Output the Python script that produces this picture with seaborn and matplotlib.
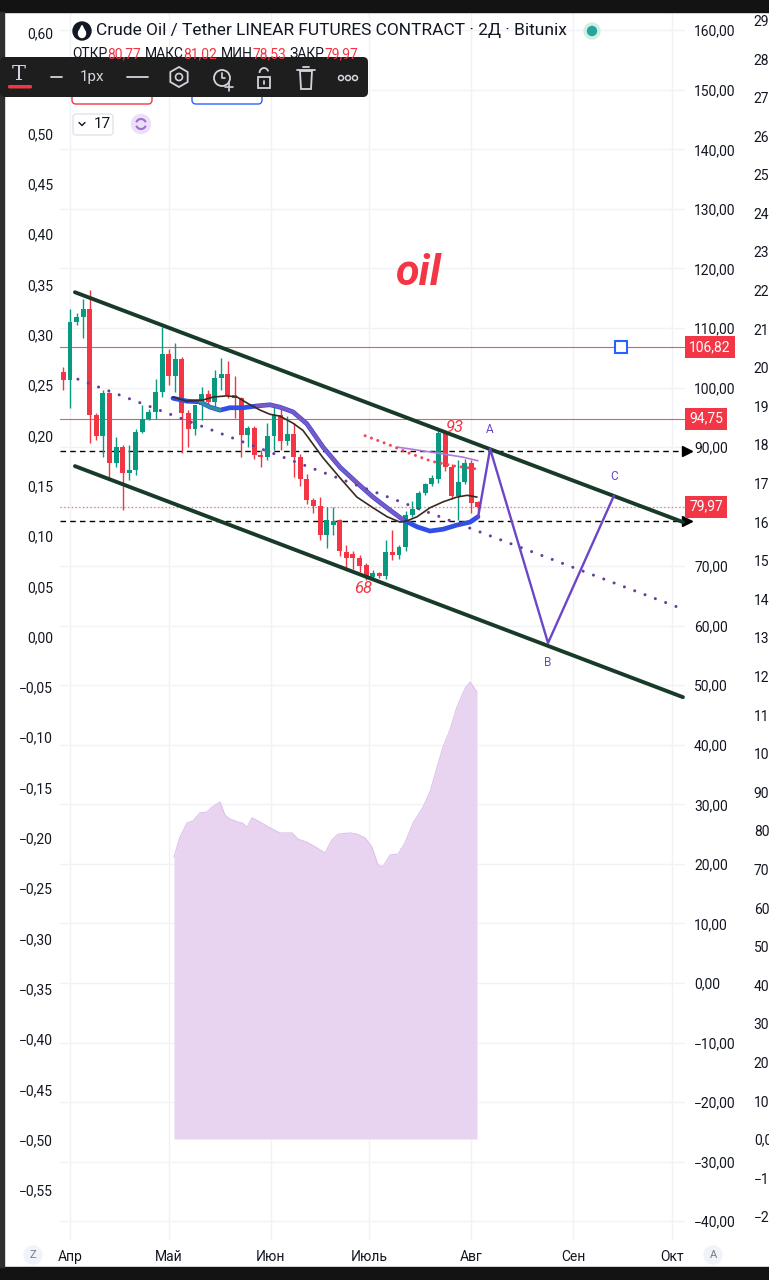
import numpy as np
import matplotlib
matplotlib.use("Agg")
import matplotlib.pyplot as plt
import seaborn as sns
from matplotlib.patches import Rectangle, FancyBboxPatch, Circle, RegularPolygon, Arc, Ellipse, Polygon

sns.set_theme(style="white")
plt.rcParams['font.family'] = ['Roboto', 'DejaVu Sans']

# 2-day candles, x = days from 1 April
bar_days = list(range(-2, 126, 2))
opens = [102.6, 101.3, 111.0, 111.8, 113.2, 95.4, 91.9, 99.1, 87.3, 90.0, 85.6, 86.1, 92.5, 94.7, 95.9, 99.2,
         105.6, 101.9, 104.8, 95.7, 93.0, 97.1, 98.9, 97.6, 101.6, 102.3, 98.7, 98.2, 92.0, 93.2, 88.7, 88.3,
         91.9, 95.4, 91.0, 92.2, 88.3, 84.6, 81.1, 80.1, 75.2, 76.9, 77.8, 72.4, 72.0, 71.4, 70.2, 68.2,
         68.8, 68.3, 72.4, 71.9, 73.2, 78.6, 79.6, 82.3, 83.8, 84.6, 92.4, 86.7, 81.8, 84.1, 87.3, 80.77]
highs = [103.4, 113.2, 112.5, 114.9, 116.4, 95.7, 99.6, 99.2, 91.7, 90.3, 90.3, 93.0, 97.0, 96.4, 101.5, 110.2,
         106.5, 107.5, 105.2, 96.2, 97.1, 100.1, 99.6, 103.0, 105.0, 104.5, 102.0, 98.4, 93.5, 93.6, 89.5, 94.0,
         96.7, 96.7, 95.2, 94.0, 88.8, 85.5, 81.5, 81.6, 80.0, 79.9, 78.0, 73.5, 72.5, 71.8, 70.5, 69.3,
         69.1, 74.4, 76.1, 73.6, 79.3, 81.0, 82.6, 84.0, 85.3, 92.9, 92.9, 87.2, 87.8, 88.0, 87.8, 81.02]
lows = [99.6, 96.6, 110.5, 108.3, 90.7, 91.2, 88.3, 84.5, 86.7, 79.4, 84.5, 85.3, 92.4, 94.5, 94.7, 98.4,
        100.5, 99.2, 89.0, 90.0, 92.0, 94.5, 96.9, 96.5, 99.6, 98.2, 94.9, 88.3, 90.0, 88.0, 86.7, 87.9,
        89.5, 89.5, 90.4, 85.0, 83.5, 80.5, 79.0, 74.4, 73.0, 75.2, 71.7, 69.5, 69.5, 69.0, 67.7, 68.0,
        68.0, 67.9, 71.0, 71.2, 72.5, 78.2, 79.5, 82.0, 83.5, 84.0, 86.0, 81.2, 77.8, 83.8, 78.9, 78.53]
closes = [101.3, 111.0, 111.8, 113.2, 95.4, 91.9, 99.1, 87.3, 90.0, 85.6, 86.1, 92.5, 94.7, 95.9, 99.2, 105.6,
          101.9, 104.8, 95.7, 93.0, 97.1, 98.9, 97.6, 101.6, 102.3, 98.7, 98.2, 92.0, 93.2, 88.7, 88.3, 91.9,
          95.4, 91.0, 92.2, 88.3, 84.6, 81.1, 80.1, 75.2, 77.8, 77.6, 72.5, 71.4, 71.4, 70.0, 68.2, 68.8,
          68.3, 72.4, 71.9, 73.2, 78.6, 79.6, 82.3, 83.8, 84.8, 92.4, 86.7, 81.8, 84.1, 87.3, 80.6, 79.97]

# moving averages
blue_days = [31.3, 35.6, 39.5, 42.6, 45.6, 48.6, 52.6, 56.8, 60.8, 63.8, 67.8, 72.0, 76.9, 82.1, 87.2, 92.1,
             97.3, 101.2, 105.5, 109.4, 113.4, 117.6, 121.6, 124.0]
blue_vals = [98.2, 97.7, 97.6, 96.7, 96.2, 96.6, 96.6, 96.9, 97.1, 96.7, 95.9, 93.9, 90.0, 86.6, 84.0, 81.6,
             79.4, 77.8, 76.6, 75.9, 76.2, 76.9, 77.4, 78.3]
brown_days = [31.3, 35.6, 40.4, 43.5, 47.7, 50.8, 53.8, 57.8, 60.8, 63.8, 67.8, 70.8, 76.9, 82.1, 87.2, 92.1,
              96.4, 100.3, 102.4, 105.5, 109.4, 113.4, 117.6, 120.7, 123.7]
brown_vals = [98.4, 97.7, 97.9, 98.4, 98.6, 98.4, 97.4, 96.2, 95.5, 95.2, 94.0, 92.8, 88.2, 84.8, 81.6, 79.8,
              78.3, 77.4, 77.6, 78.3, 79.8, 80.8, 81.6, 81.9, 81.6]
violet_days = [99.4, 111.6, 119.5, 124.0]
violet_vals = [90.0, 89.0, 88.3, 87.7]
reddot_days = [89.7, 96.0, 103.0, 110.0, 117.0, 124.0]
reddot_vals = [91.9, 90.6, 89.0, 87.6, 86.8, 86.3]

# drawings
chan_days = [1.5, 186.3]
chan_upper = [116.0, 77.4]
chan_lower = [86.8, 48.0]
mid_days = [2.4, 184.8]
mid_vals = [101.4, 63.1]
abc_days = [124.0, 127.7, 145.3, 165.3]
abc_vals = [78.1, 89.7, 57.1, 81.8]
abc_names = ['', 'A', 'B', 'C']
levels_red = [106.82, 94.75]
levels_dash = [89.3, 77.6]

# lower purple area (third scale)
vol_days = [31.6, 33.4, 35.6, 37.4, 39.5, 41.6, 43.2, 45.6, 47.1, 48.6, 51.1, 52.3, 53.8, 55.3, 57.8, 60.8,
            63.8, 66.0, 67.5, 69.3, 72.0, 75.1, 77.5, 79.6, 81.5, 85.1, 87.2, 89.7, 91.8, 93.6, 95.1, 97.3,
            99.7, 101.8, 104.3, 107.3, 109.4, 111.6, 113.4, 115.5, 117.6, 120.1, 121.6, 123.7]
vol_vals = [730, 782, 819, 824, 845, 847, 860, 873, 839, 829, 821, 819, 808, 832, 821, 806,
            793, 793, 793, 777, 769, 754, 741, 775, 790, 793, 790, 780, 756, 710, 705, 736,
            738, 767, 819, 860, 899, 964, 1016, 1060, 1119, 1168, 1184, 1158]

month_days = [0, 30, 61, 91, 122, 153, 183]
month_names = ['Апр', 'Май', 'Июн', 'Июль', 'Авг', 'Сен', 'Окт']
price_ticks = list(range(-40, 161, 10))
left_ticks = [round(-0.55 + 0.05 * i, 2) for i in range(24)]
vol_ticks = list(range(-200, 3000, 100))

UP, DOWN = '#089981', '#f23645'
TXT = '#131722'


def fmt(v, nd=2):
    return f"{v:.{nd}f}".replace('.', ',').replace('-', '\u2212')


W, H = 769, 1280
L, R, T, B = 60, 685, 12, 1240
fig = plt.figure(figsize=(W / 100, H / 100), dpi=100)
fig.patch.set_facecolor('white')

ax = fig.add_axes([L / W, 1 - B / H, (R - L) / W, (B - T) / H])
ax.set_xlim(-3.04, 186.93)
ax.set_ylim(-43.16, 163.06)
ax.set_xticks(month_days)
ax.set_xticklabels(month_names)
ax.tick_params(axis='x', length=0, pad=7, labelsize=10, labelcolor=TXT)
ax.grid(True, color='#f0f2f6', lw=1)
ax.set_axisbelow(True)
for s in ax.spines.values():
    s.set_visible(False)

# candles
o, h, l, c = map(np.array, (opens, highs, lows, closes))
d = np.array(bar_days)
cols = np.where(c >= o, UP, DOWN)
ax.vlines(d, l, h, colors=cols, lw=1, zorder=3)
ax.bar(d, np.maximum(np.abs(c - o), 0.35), bottom=np.minimum(o, c), width=1.5,
       color=cols, linewidth=0, zorder=3)

# horizontal levels
for v in levels_red:
    ax.axhline(v, color='#f23645', lw=0.8, alpha=0.85, zorder=2)
    ax.annotate(fmt(v), xy=(1, v), xycoords=('axes fraction', 'data'), xytext=(3, 0),
                textcoords='offset points', va='center', ha='left', color='white', fontsize=10,
                bbox=dict(boxstyle='square,pad=0.3', fc='#f23645', ec='none'),
                annotation_clip=False, zorder=10)
for v in levels_dash:
    ax.axhline(v, color='black', lw=1, ls=(0, (4, 3)), zorder=2)
    ax.plot([187.4], [v], marker='>', color='black', ms=7, clip_on=False, zorder=6)
ax.axhline(closes[-1], color='#f23645', lw=0.9, alpha=0.7, ls=(0, (1, 2)), zorder=2)
ax.annotate(fmt(closes[-1]), xy=(1, closes[-1]), xycoords=('axes fraction', 'data'), xytext=(3, 0),
            textcoords='offset points', va='center', ha='left', color='white', fontsize=10,
            bbox=dict(boxstyle='square,pad=0.3', fc='#f23645', ec='none'),
            annotation_clip=False, zorder=10)
ax.plot([167.5], [levels_red[0]], marker='s', ms=9, mfc='white', mec='#2962ff', mew=1.5, zorder=8)

# indicator lines
sns.lineplot(x=blue_days, y=blue_vals, ax=ax, color='#2f4fe6', linewidth=3.4, estimator=None,
             sort=False, zorder=4)
sns.lineplot(x=blue_days[2:5], y=blue_vals[2:5], ax=ax, color='#2e8fa0', linewidth=2.4, estimator=None,
             sort=False, zorder=4)
sns.lineplot(x=blue_days[7:18], y=blue_vals[7:18], ax=ax, color='#7e57c2', linewidth=2.4, estimator=None,
             sort=False, zorder=4)
sns.lineplot(x=brown_days, y=brown_vals, ax=ax, color='#3b2a20', linewidth=1.2, estimator=None,
             sort=False, zorder=5)
sns.lineplot(x=violet_days, y=violet_vals, ax=ax, color='#b07ad8', linewidth=1.2, estimator=None,
             sort=False, zorder=4)
ax.plot(reddot_days, reddot_vals, color='#f0475a', lw=2.2, ls=(0, (0.01, 2.2)),
        dash_capstyle='round', zorder=4)
ax.plot(mid_days, mid_vals, color='#6a3d9a', lw=2.2, ls=(0, (0.01, 3.6)),
        dash_capstyle='round', zorder=4)

# channel and wave
sns.lineplot(x=chan_days, y=chan_upper, ax=ax, color='#183a29', linewidth=2.8, estimator=None, zorder=6)
sns.lineplot(x=chan_days, y=chan_lower, ax=ax, color='#183a29', linewidth=2.8, estimator=None, zorder=6)
sns.lineplot(x=abc_days, y=abc_vals, ax=ax, color='#6c45c9', linewidth=1.7, estimator=None,
             sort=False, zorder=7)
for x, y, n in zip(abc_days, abc_vals, abc_names):
    if n:
        dy = -14 if n == 'B' else 14
        ax.annotate(n, xy=(x, y), xytext=(0, dy), textcoords='offset points', ha='center',
                    va='center', color='#6c45c9', fontsize=8.5)

ax.text(105.8, 117.2, 'oil', color='#f23645', fontsize=31, fontweight='bold', fontstyle='italic',
        ha='center', va='baseline', zorder=8)
ax.text(117, 92.5, '93', color='#f23645', fontsize=12, fontstyle='italic', ha='center', va='baseline', zorder=8)
ax.text(89.1, 65.5, '68', color='#f23645', fontsize=12, fontstyle='italic', ha='center', va='baseline', zorder=8)

# left scale
ax_l = ax.twinx()
ax_l.set_ylim(-0.5997, 0.6209)
ax_l.set_yticks(left_ticks)
ax_l.set_yticklabels([fmt(v) for v in left_ticks])
ax_l.yaxis.tick_left()
ax_l.tick_params(axis='y', length=0, pad=5, labelsize=10, labelcolor=TXT)
ax_l.grid(False)
for s in ax_l.spines.values():
    s.set_visible(False)

# third scale with purple area
ax3 = ax.twinx()
ax3.set_ylim(-261.7, 2920)
ax3.fill_between(vol_days, 0, vol_vals, color='#e8d4f0', lw=0, zorder=1)
ax3.plot(vol_days, vol_vals, color='#dcc2ea', lw=0.8)
ax3.set_yticks(vol_ticks)
ax3.set_yticklabels([fmt(v) for v in vol_ticks])
ax3.tick_params(axis='y', length=0, pad=49.5, labelsize=10, labelcolor=TXT)
ax3.grid(False)
for s in ax3.spines.values():
    s.set_visible(False)

# price scale on the right (set after twinx, which moves it to the left);
# the 80,00 label sits under the last-price box, so it is left blank
ax.set_yticks(price_ticks)
ax.set_yticklabels(['' if v == 80 else fmt(v) for v in price_ticks])
ax.yaxis.tick_right()
ax.tick_params(axis='y', length=0, pad=6.5, labelsize=10, labelcolor=TXT,
               left=False, labelleft=False, right=False, labelright=True)

# overlay: frame, header, toolbar
ov = fig.add_axes([0, 0, 1, 1], zorder=20)
ov.set_xlim(0, W)
ov.set_ylim(H, 0)
ov.axis('off')
ov.patch.set_alpha(0)
ov.add_patch(Rectangle((0, 0), W, 12, color='#131313'))
ov.add_patch(Rectangle((0, 1267), W, 13, color='#131313'))
ov.add_patch(Rectangle((0, 12), 4, 1255, color='#2f2f2f'))

ov.add_patch(Circle((82, 31), 9, color=TXT))
ov.add_patch(Ellipse((82, 33.5), 7, 8, color='white'))
ov.add_patch(Polygon([(82, 25.5), (78.9, 32), (85.1, 32)], color='white'))
ov.text(96, 31, 'Crude Oil / Tether LINEAR FUTURES CONTRACT · 2Д · Bitunix', fontsize=12.5,
        va='center', ha='left', color=TXT)
ov.add_patch(Circle((592, 31), 8, color='#d2efe5'))
ov.add_patch(Circle((592, 31), 4.5, color='#26a69a'))

parts = [('ОТКР', TXT), (fmt(opens[-1]), DOWN), ('МАКС', TXT), (fmt(highs[-1]), DOWN),
         ('МИН', TXT), (fmt(lows[-1]), DOWN), ('ЗАКР', TXT), (fmt(closes[-1]), DOWN)]
t = ov.text(72, 54, parts[0][0], fontsize=10, color=parts[0][1], va='center', ha='left')
for i, (s, col) in enumerate(parts[1:], start=1):
    gap = 0 if i % 2 == 1 else 2.5
    t = ov.annotate(s, xy=(1, 0), xycoords=t, xytext=(gap, 0), textcoords='offset points',
                    va='bottom', ha='left', fontsize=10, color=col)

ov.add_patch(FancyBboxPatch((72, 84), 80, 20, boxstyle='round,pad=0,rounding_size=4',
                            fc='white', ec='#f23645', lw=1))
ov.add_patch(FancyBboxPatch((192, 84), 70, 20, boxstyle='round,pad=0,rounding_size=4',
                            fc='white', ec='#2962ff', lw=1))
ov.add_patch(FancyBboxPatch((0, 57), 368, 40, boxstyle='round,pad=0,rounding_size=5',
                            fc='#1e1e1f', ec='none'))
IC = '#d1d4dc'
ov.text(19, 74, 'T', fontsize=15, color=IC, ha='center', va='center', family='DejaVu Serif')
ov.add_patch(FancyBboxPatch((8, 85), 24, 3.5, boxstyle='round,pad=0,rounding_size=1.5', fc='#f23645', ec='none'))
ov.plot([51, 62], [77, 77], color=IC, lw=1.3)
ov.text(80, 77.5, '1px', fontsize=11, color=IC, ha='left', va='center')
ov.plot([127, 148], [77, 77], color=IC, lw=1.3)
ov.add_patch(RegularPolygon((179, 77), 6, radius=10, fill=False, ec=IC, lw=1.3))
ov.add_patch(Circle((179, 77), 3.5, fill=False, ec=IC, lw=1.2))
ov.add_patch(Circle((222, 78), 8, fill=False, ec=IC, lw=1.3))
ov.plot([222, 222, 225], [73, 78, 78], color=IC, lw=1.2)
ov.plot([225, 233], [87, 87], color=IC, lw=1.2)
ov.plot([229, 229], [83, 91], color=IC, lw=1.2)
ov.add_patch(Rectangle((258, 77), 12, 11, fill=False, ec=IC, lw=1.3))
ov.add_patch(Arc((264, 73), 9, 10, theta1=180, theta2=340, color=IC, lw=1.3))
ov.plot([264, 264], [81, 84], color=IC, lw=1.3)
ov.add_patch(Polygon([(300, 71), (312, 71), (311, 89), (301, 89)], fill=False, ec=IC, lw=1.3))
ov.plot([297, 315], [70, 70], color=IC, lw=1.3)
ov.plot([303, 309], [67, 67], color=IC, lw=1.3)
for cx in (341, 348, 355):
    ov.add_patch(Circle((cx, 78), 2.5, fill=False, ec=IC, lw=1.1))

ov.add_patch(FancyBboxPatch((73, 114), 40, 21, boxstyle='round,pad=0,rounding_size=3',
                            fc='white', ec='#e0e3eb', lw=1))
ov.plot([79, 82, 85], [122.5, 125.5, 122.5], color=TXT, lw=1)
ov.text(94, 124.5, '17', fontsize=11, color=TXT, ha='left', va='center')
ov.add_patch(Circle((141, 124), 9.5, color='#ece0f7'))
ov.add_patch(Arc((141, 124), 10, 10, theta1=200, theta2=340, color='#9e6cd8', lw=1.5))
ov.add_patch(Arc((141, 124), 10, 10, theta1=20, theta2=160, color='#9e6cd8', lw=1.5))

for cx, s in ((33, 'Z'), (713, 'A')):
    ov.add_patch(Circle((cx, 1255), 9, color='#f0f3fa'))
    ov.text(cx, 1255.5, s, fontsize=8, color='#787b86', ha='center', va='center')

fig.savefig('out.png', dpi=100)
